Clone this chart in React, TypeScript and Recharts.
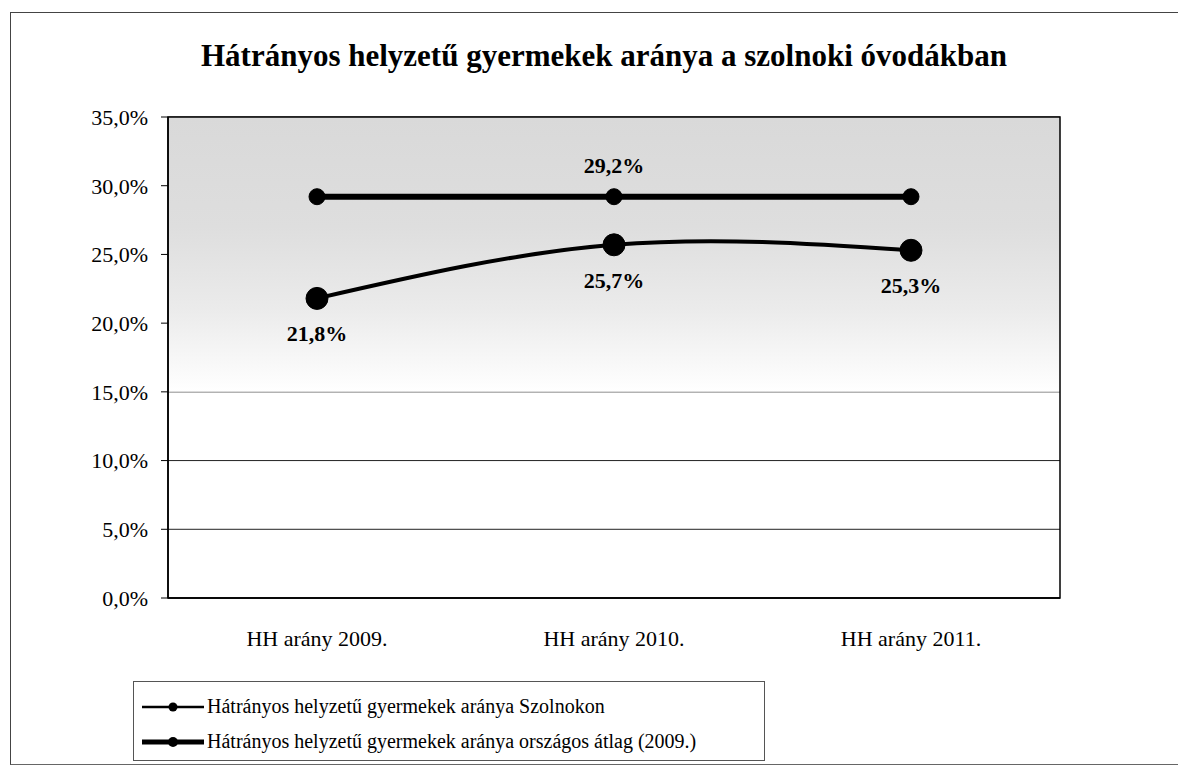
import React from 'react'
import {
  LineChart,
  Line,
  XAxis,
  YAxis,
  CartesianGrid,
  ReferenceArea,
  LabelList,
} from 'recharts'

const categories = ['HH arány 2009.', 'HH arány 2010.', 'HH arány 2011.']
const szolnok = [21.8, 25.7, 25.3]
const orszagos = [29.2, 29.2, 29.2]
// only the middle point of the national average carries a label
const orszagosLabelShown = [false, true, false]
const yTicks = [0, 5, 10, 15, 20, 25, 30, 35]

const seriesNames = [
  'Hátrányos helyzetű gyermekek aránya Szolnokon',
  'Hátrányos helyzetű gyermekek aránya országos átlag (2009.)',
]

const data = categories.map((c, i) => ({
  cat: c,
  szolnok: szolnok[i],
  orszagos: orszagos[i],
}))

const font = '"Liberation Serif", "Times New Roman", serif'
const pct = (v: number) => v.toFixed(1).replace('.', ',') + '%'

const SzolnokLabel = (props: any) => {
  const { x, y, value } = props
  return (
    <text x={x} y={y + 43} textAnchor="middle" fontFamily={font} fontWeight="bold" fontSize={22} fill="#000">
      {pct(value)}
    </text>
  )
}

const OrszagosLabel = (props: any) => {
  const { x, y, value, index } = props
  if (!orszagosLabelShown[index]) return null
  return (
    <text x={x} y={y - 24} textAnchor="middle" fontFamily={font} fontWeight="bold" fontSize={22} fill="#000">
      {pct(value)}
    </text>
  )
}

function LegendIcon({ width }: { width: number }) {
  return (
    <svg width={66} height={14} style={{ verticalAlign: 'middle', flex: 'none' }}>
      <line x1={2} y1={7} x2={64} y2={7} stroke="#000" strokeWidth={width} />
      <circle cx={33} cy={7} r={width > 3 ? 5 : 4.5} fill="#000" />
    </svg>
  )
}

export default function App() {
  return (
    <div style={{ position: 'absolute', left: 0, top: 0, width: 1178, height: 772, background: '#fff', fontFamily: font }}>
      <div
        style={{
          position: 'absolute',
          left: 10,
          top: 12,
          width: 1180,
          height: 751,
          borderLeft: '1px solid #444',
          borderTop: '1px solid #444',
          borderBottom: '1px solid #666',
        }}
      />
      <div
        style={{
          position: 'absolute',
          left: 0,
          width: 1208,
          top: 38,
          textAlign: 'center',
          fontSize: 31,
          fontWeight: 'bold',
          color: '#000',
        }}
      >
        Hátrányos helyzetű gyermekek aránya a szolnoki óvodákban
      </div>
      <div style={{ position: 'absolute', left: 0, top: 0 }}>
        <LineChart width={1178} height={772} data={data} margin={{ top: 117, right: 118, left: 0, bottom: 110 }}>
          <defs>
            <linearGradient id="shade" x1="0" y1="0" x2="0" y2="1">
              <stop offset="0%" stopColor="#d9d9d9" />
              <stop offset="40%" stopColor="#dedede" />
              <stop offset="70%" stopColor="#ebebeb" />
              <stop offset="100%" stopColor="#ffffff" />
            </linearGradient>
          </defs>
          {/* hidden full-width axis so plot-wide areas cover the whole plot */}
          <XAxis xAxisId="full" type="number" domain={[0, 2]} allowDataOverflow hide />
          <ReferenceArea xAxisId="full" x1={0} x2={2} y1={15} y2={35} fill="url(#shade)" fillOpacity={1} stroke="none" />
          <CartesianGrid vertical={false} stroke="#222" strokeWidth={1} />
          <ReferenceArea xAxisId="full" x1={0} x2={2} y1={0} y2={35} fill="none" stroke="#000" strokeWidth={1.5} />
          <XAxis
            dataKey="cat"
            padding={{ left: 149, right: 149 }}
            axisLine={{ stroke: '#000', strokeWidth: 1.5 }}
            tickLine={false}
            tickMargin={26}
            height={64}
            tick={{ fontSize: 22, fill: '#000', fontFamily: font }}
          />
          <YAxis
            domain={[0, 35]}
            ticks={yTicks}
            tickFormatter={pct}
            width={168}
            axisLine={{ stroke: '#000', strokeWidth: 1.5 }}
            tickLine={{ stroke: '#000' }}
            tickSize={7}
            tickMargin={13}
            tick={{ fontSize: 22, fill: '#000', fontFamily: font }}
          />
          <Line
            type="linear"
            dataKey="orszagos"
            name={seriesNames[1]}
            stroke="#000"
            strokeWidth={6}
            dot={{ r: 8, fill: '#000', stroke: '#000', strokeWidth: 1 }}
            isAnimationActive={false}
          >
            <LabelList dataKey="orszagos" content={OrszagosLabel} />
          </Line>
          <Line
            type="natural"
            dataKey="szolnok"
            name={seriesNames[0]}
            stroke="#000"
            strokeWidth={4}
            dot={{ r: 11, fill: '#000', stroke: '#000', strokeWidth: 1 }}
            isAnimationActive={false}
          >
            <LabelList dataKey="szolnok" content={SzolnokLabel} />
          </Line>
        </LineChart>
      </div>
      <div
        style={{
          position: 'absolute',
          left: 133,
          top: 681,
          width: 632,
          height: 80,
          border: '1px solid #555',
          boxSizing: 'border-box',
          padding: '7px 0 0 6px',
          fontSize: 20,
          color: '#000',
          whiteSpace: 'nowrap',
        }}
      >
        {seriesNames.map((n, i) => (
          <div key={n} style={{ display: 'flex', alignItems: 'center', height: 35 }}>
            <LegendIcon width={i === 0 ? 2.5 : 5} />
            <span style={{ marginLeft: 1 }}>{n}</span>
          </div>
        ))}
      </div>
    </div>
  )
}
